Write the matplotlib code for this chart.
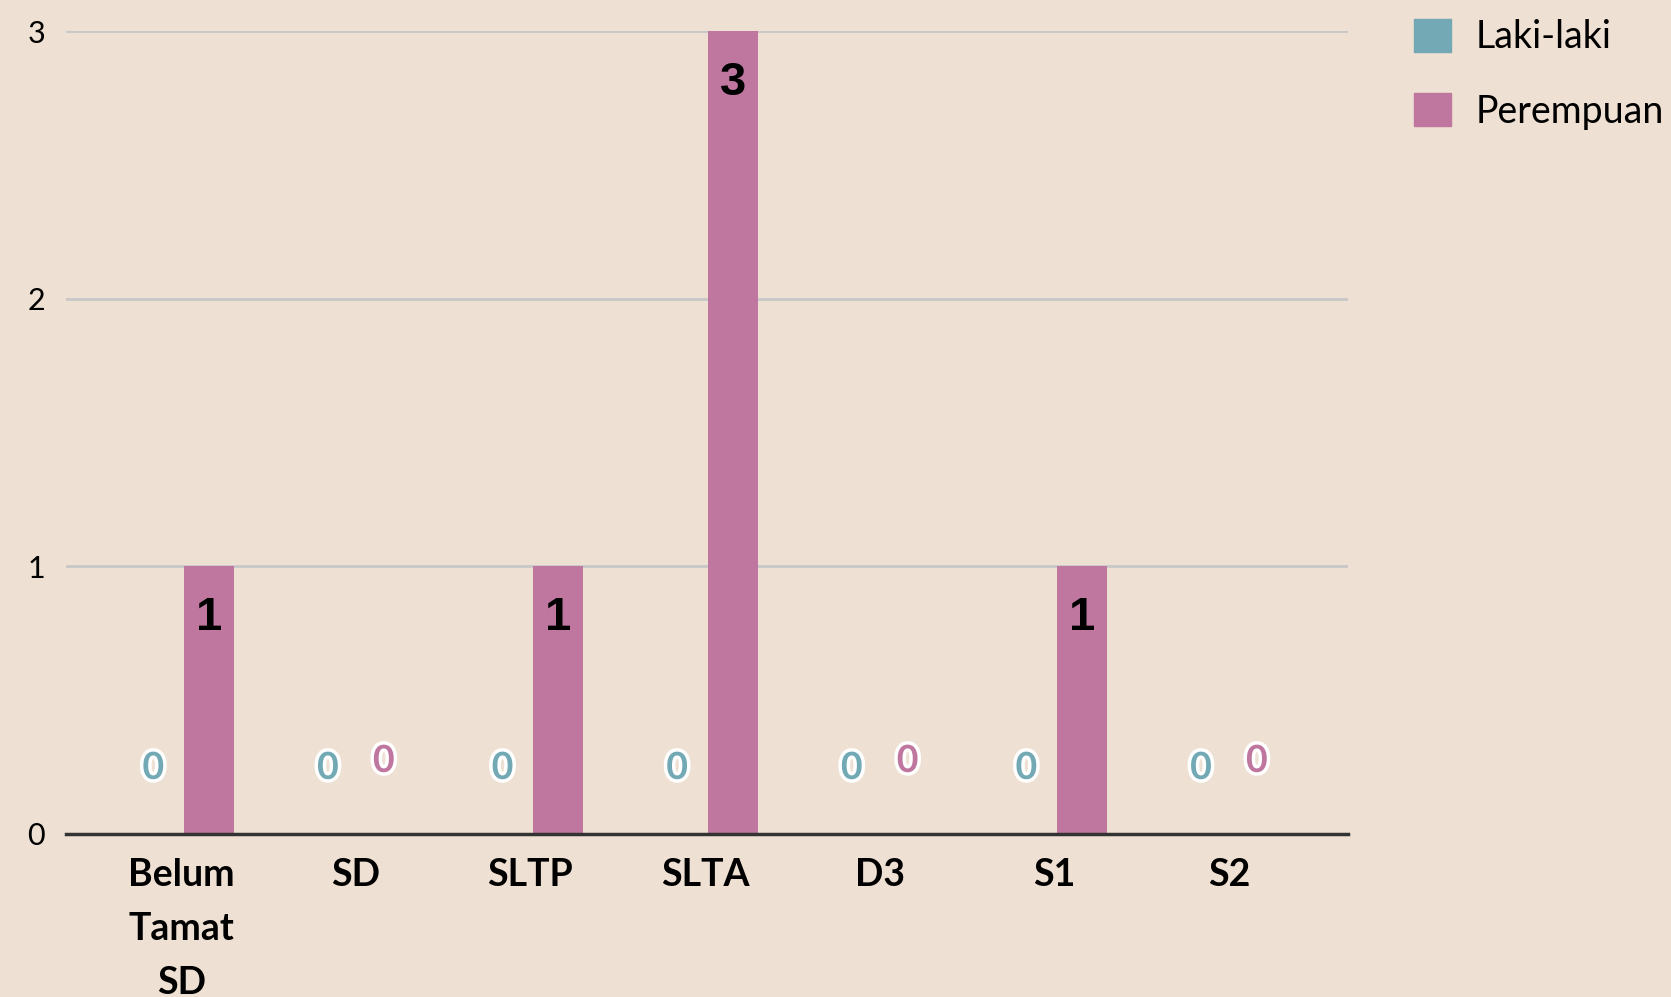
import matplotlib.pyplot as plt
import numpy as np
from matplotlib.patches import Patch
import matplotlib.patheffects as pe

# data
categories = ["Belum\nTamat\nSD", "SD", "SLTP", "SLTA", "D3", "S1", "S2"]
laki_laki = [0, 0, 0, 0, 0, 0, 0]
perempuan = [1, 0, 1, 3, 0, 1, 0]
yticks = [0, 1, 2, 3]

bg = "#EEE0D2"
teal = "#72A9B4"
pink = "#BF779F"
plt.rcParams['font.family'] = ['Lato', 'DejaVu Sans']

fig = plt.figure(figsize=(16.71, 9.97), dpi=100, facecolor=bg)
ax = fig.add_axes([0.0395, 0.1635, 0.767, 0.8054])
ax.set_facecolor(bg)

x = np.arange(len(categories))
w = 0.286
off = 0.16
ax.bar(x - off, laki_laki, w, color=teal, zorder=3)
ax.bar(x + off, perempuan, w, color=pink, zorder=3)

# label nol diberi garis putih
outline = [pe.withStroke(linewidth=5, foreground="white")]
for xi, v in zip(x, laki_laki):
    if v == 0:
        ax.annotate("0", (xi - off, 0), xytext=(0, 66), textcoords="offset pixels",
                    ha="center", va="center", fontsize=27, fontweight="bold",
                    color=teal, path_effects=outline, zorder=5)
for xi, v in zip(x, perempuan):
    if v == 0:
        ax.annotate("0", (xi + off, 0), xytext=(0, 73), textcoords="offset pixels",
                    ha="center", va="center", fontsize=27, fontweight="bold",
                    color=pink, path_effects=outline, zorder=5)
    else:
        ax.annotate(str(v), (xi + off, v), xytext=(0, -52), textcoords="offset pixels",
                    ha="center", va="center", fontsize=34, fontweight="bold",
                    color="black", family=['Liberation Sans', 'DejaVu Sans'], zorder=5)

ax.set_xlim(-0.66, 6.68)
ax.set_ylim(0, 3)
ax.set_yticks(yticks)
ax.set_yticklabels([str(t) for t in yticks], fontsize=22)
ax.yaxis.grid(True, color="#C8C8C8", linewidth=2, zorder=0)
ax.set_axisbelow(True)
ax.set_xticks(x)
ax.set_xticklabels(categories, fontsize=27, fontweight="bold", linespacing=1.72)
ax.tick_params(axis="both", length=0)
ax.tick_params(axis="x", pad=17)
ax.tick_params(axis="y", pad=15)
for s in ["top", "right", "left"]:
    ax.spines[s].set_visible(False)
ax.spines["bottom"].set_color("#333333")
ax.spines["bottom"].set_linewidth(2.5)
ax.spines["bottom"].set_zorder(4)

handles = [Patch(color=teal, label="Laki-laki"), Patch(color=pink, label="Perempuan")]
fig.legend(handles=handles, loc="upper left", bbox_to_anchor=(0.826, 1.015),
           frameon=False, fontsize=27, handlelength=1, handleheight=1,
           handletextpad=0.65, labelspacing=1.0)

fig.savefig("out.png", dpi=100, facecolor=bg)
